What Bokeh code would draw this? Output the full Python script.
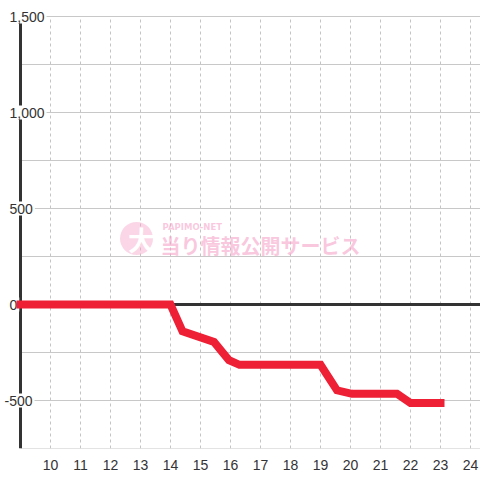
from bokeh.plotting import figure
from bokeh.models import FixedTicker, Range1d, ColumnDataSource
from bokeh.core.properties import value
from bokeh.embed import file_html
from bokeh.resources import INLINE

# ---- data ----
hours = [9, 14, 14.4, 15.45, 15.95, 16.3, 19.0, 19.55, 20.05, 21.55, 22.0, 23.0]
balance = [0, 0, -140, -195, -290, -314, -314, -447, -465, -465, -513, -513]

x_ticks = [10, 11, 12, 13, 14, 15, 16, 17, 18, 19, 20, 21, 22, 23, 24]
y_grid = [-750, -500, -250, 0, 250, 500, 750, 1000, 1250, 1500]
y_label_vals = [1500, 1000, 500, 0, -500]
y_label_text = ["1,500", "1,000", "500", "0", "-500"]

PX = 30.0            # pixels per hour
PY = 432 / 2250      # pixels per unit
AXIS_X = 9
X0, X1 = AXIS_X - 20 / PX, AXIS_X + 460 / PX
Y0, YTOP = -750, 1500
Y1 = YTOP + 16 / PY

p = figure(width=480, height=480, x_range=Range1d(X0, X1), y_range=Range1d(Y0, Y1),
           output_backend="svg", toolbar_location=None, y_axis_location=None,
           min_border_left=0, min_border_right=0, min_border_top=0, min_border_bottom=32)
p.outline_line_color = None
p.background_fill_color = "white"
p.border_fill_color = "white"
p.grid.visible = False

# x axis
p.xaxis.ticker = FixedTicker(ticks=x_ticks)
p.xaxis.axis_line_color = None
p.xaxis.major_tick_line_color = None
p.xaxis.minor_tick_line_color = None
p.xaxis.major_label_text_font = "Liberation Sans"
p.xaxis.major_label_text_font_size = "14px"
p.xaxis.major_label_text_color = "#333333"
p.xaxis.major_label_standoff = 5

# vertical dotted grid
p.segment(x0=x_ticks, y0=[Y0] * len(x_ticks), x1=x_ticks, y1=[YTOP] * len(x_ticks),
          line_color="#c4c4c4", line_width=1, line_dash="3 3")

# watermark
def sx(px):
    return AXIS_X + (px - 20) / PX

def sy(py):
    return (304 - py) / PY

p.scatter(x=[sx(136)], y=[sy(238)], size=33,
          fill_color="#f6a3c8", fill_alpha=0.45, line_color=None)
p.text(x=[sx(141)], y=[sy(239)], text=["大"],
       text_font=value("Noto Sans CJK JP"), text_font_style="bold", text_font_size="27px",
       text_color="white", text_align="center", text_baseline="middle")
p.text(x=[sx(160)], y=[sy(245)], text=["当り情報公開サービス"],
       text_font=value("Noto Sans CJK JP"), text_font_style="bold", text_font_size="20px",
       text_color="#f6a3c8", text_alpha=0.6, text_align="left", text_baseline="middle")
p.text(x=[sx(162)], y=[sy(226.5)], text=["PAPIMO-NET"],
       text_font=value("DejaVu Sans"), text_font_style="bold", text_font_size="8.5px",
       text_color="#f6a3c8", text_alpha=0.6, text_align="left", text_baseline="middle")

# horizontal grid lines starting at axis
p.segment(x0=[AXIS_X] * len(y_grid), y0=y_grid, x1=[X1] * len(y_grid), y1=y_grid,
          line_color="#c8c8c8", line_width=1)

# zero line and y axis line
p.segment(x0=[AXIS_X], y0=[0], x1=[X1], y1=[0], line_color="#333333", line_width=3)
p.segment(x0=[AXIS_X], y0=[Y0], x1=[AXIS_X], y1=[YTOP], line_color="#333333", line_width=3)

# y labels with white background
src = ColumnDataSource(dict(x=[AXIS_X] * len(y_label_vals), y=y_label_vals, t=y_label_text,
                            xo=[-13 if not s.startswith("-") else -18 for s in y_label_text]))
p.text(x="x", y="y", text="t", x_offset="xo", source=src,
       text_font=value("Liberation Sans"), text_font_size="14px", text_color="#333333",
       text_align="left", text_baseline="middle",
       background_fill_color="white", padding=2)

# data line
p.line(hours, balance, line_color="#ee2036", line_width=8, line_join="miter", line_cap="square")

open("out.html", "w").write(file_html(p, INLINE))
